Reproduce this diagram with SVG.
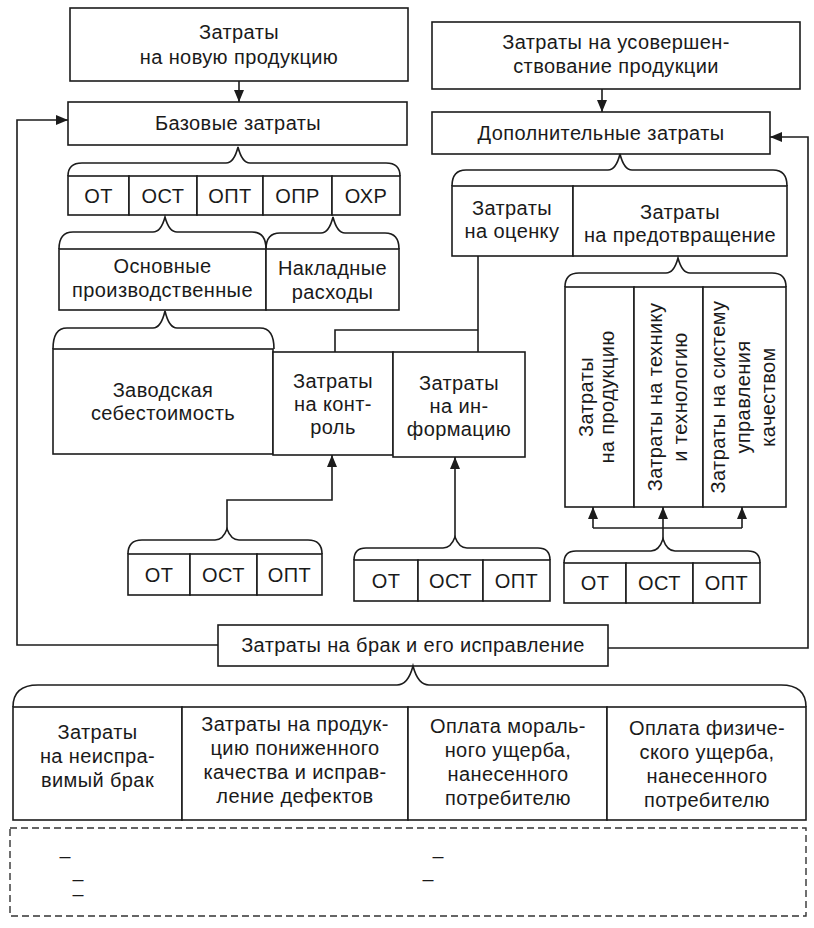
<svg xmlns="http://www.w3.org/2000/svg" width="814" height="928" viewBox="0 0 814 928">
<defs>
<marker id="ah" markerUnits="userSpaceOnUse" markerWidth="12" markerHeight="12" viewBox="0 0 12 12" refX="12" refY="6" orient="auto">
<path d="M0,1 L12,6 L0,11 Z" fill="#1c1c1c"/>
</marker>
</defs>
<style>
rect,.b{fill:#fff;stroke:#1c1c1c;stroke-width:1.6}
.br{fill:none;stroke:#1c1c1c;stroke-width:1.6}
.c{fill:none;stroke:#1c1c1c;stroke-width:1.6}
.a{marker-end:url(#ah)}
text{font-family:"Liberation Sans",Arial,sans-serif;font-size:20px;fill:#1a1a1a;text-anchor:middle;letter-spacing:0.4px}
.dash{font-size:11px;letter-spacing:0;font-weight:bold}
</style>
<rect x="0" y="0" width="814" height="928" style="fill:#fff;stroke:none"/>

<g id="connectors">
<path class="c a" d="M239,81 V102"/>
<path class="c a" d="M602,89 V112"/>
<path class="c a" d="M218,645 H17 V120 H68"/>
<path class="c a" d="M608,648 H808 V137 H770"/>
<path class="c a" d="M227,529 V500 H332 V455"/>
<path class="c a" d="M455,537 V457"/>
<path class="c a" d="M663,539 V507"/>
<path class="c" d="M593,528 H742"/>
<path class="c a" d="M593,528 V507"/>
<path class="c a" d="M742,528 V507"/>
<path class="c" d="M478,256 V352"/>
<path class="c" d="M478,330 H335 V352"/>
</g>

<g id="new-product">
<rect x="70" y="8" width="338" height="73"/>
<text x="239" y="39">Затраты</text>
<text x="239" y="64">на новую продукцию</text>
</g>

<g id="improvement">
<rect x="432" y="22" width="368" height="67"/>
<text x="616" y="49">Затраты на усовершен-</text>
<text x="616" y="73">ствование продукции</text>
</g>

<g id="base-costs">
<rect x="68" y="102" width="339" height="43"/>
<text x="238" y="130">Базовые затраты</text>
</g>

<g id="additional-costs">
<rect x="432" y="112" width="338" height="42"/>
<text x="601" y="140">Дополнительные затраты</text>
</g>

<g id="base-items">
<path class="br" d="M68,176 Q68,163 82,163 L226,163 Q234,163 238,147 Q242,163 250,163 L386,163 Q400,163 400,176"/>
<rect x="68" y="176" width="61" height="39"/>
<rect x="129" y="176" width="68" height="39"/>
<rect x="197" y="176" width="66" height="39"/>
<rect x="263" y="176" width="69" height="39"/>
<rect x="332" y="176" width="68" height="39"/>
<text x="98.5" y="203">ОТ</text>
<text x="163" y="203">ОСТ</text>
<text x="230" y="203">ОПТ</text>
<text x="297.5" y="203">ОПР</text>
<text x="366" y="203">ОХР</text>
</g>

<g id="main-overhead">
<path class="br" d="M59,249 Q59,232 73,232 L153,232 Q161,232 165,217 Q169,232 177,232 L252,232 Q266,232 266,249"/>
<path class="br" d="M266,249 Q266,233 280,233 L321,233 Q329,233 333,217 Q337,233 345,233 L385,233 Q399,233 399,249"/>
<rect x="59" y="249" width="207" height="61"/>
<rect x="266" y="249" width="133" height="61"/>
<text x="162.5" y="273">Основные</text>
<text x="162.5" y="297">производственные</text>
<text x="332.5" y="275">Накладные</text>
<text x="332.5" y="299">расходы</text>
</g>

<g id="factory-cost">
<path class="br" d="M53,349 Q53,328 67,328 L153,328 Q161,328 165,311 Q169,328 177,328 L260,328 Q274,328 274,349"/>
<rect x="53" y="349" width="220" height="105"/>
<text x="163" y="397">Заводская</text>
<text x="163" y="420">себестоимость</text>
</g>

<g id="control">
<rect x="273" y="352" width="120" height="103"/>
<text x="333" y="388">Затраты</text>
<text x="333" y="411">на конт-</text>
<text x="333" y="434">роль</text>
</g>

<g id="information">
<rect x="393" y="352" width="132" height="105"/>
<text x="459" y="390">Затраты</text>
<text x="459" y="413">на ин-</text>
<text x="459" y="436">формацию</text>
</g>

<g id="assessment-prevention">
<path class="br" d="M452,186 Q452,170 466,170 L608,170 Q616,170 620,154 Q624,170 632,170 L773,170 Q787,170 787,186"/>
<rect x="452" y="186" width="121" height="70"/>
<rect x="573" y="186" width="214" height="70"/>
<text x="512" y="215">Затраты</text>
<text x="512" y="238">на оценку</text>
<text x="680" y="219">Затраты</text>
<text x="680" y="242">на предотвращение</text>
</g>

<g id="prevention-items">
<path class="br" d="M565,287 Q565,273 579,273 L666,273 Q674,273 678,258 Q682,273 690,273 L772,273 Q786,273 786,287"/>
<rect x="565" y="287" width="69" height="220"/>
<rect x="634" y="287" width="69" height="220"/>
<rect x="703" y="287" width="83" height="220"/>
<g transform="translate(593,397) rotate(-90)"><text x="0" y="0">Затраты</text></g>
<g transform="translate(614,397) rotate(-90)"><text x="0" y="0">на продукцию</text></g>
<g transform="translate(662,397) rotate(-90)"><text x="0" y="0">Затраты на технику</text></g>
<g transform="translate(687,397) rotate(-90)"><text x="0" y="0">и технологию</text></g>
<g transform="translate(725,397) rotate(-90)"><text x="0" y="0">Затраты на систему</text></g>
<g transform="translate(750,397) rotate(-90)"><text x="0" y="0">управления</text></g>
<g transform="translate(775,397) rotate(-90)"><text x="0" y="0">качеством</text></g>
</g>

<g id="control-items">
<path class="br" d="M128,554 Q128,540 142,540 L215,540 Q223,540 227,529 Q231,540 239,540 L308,540 Q322,540 322,554"/>
<rect x="128" y="554" width="62" height="41"/>
<rect x="190" y="554" width="67" height="41"/>
<rect x="257" y="554" width="65" height="41"/>
<text x="159" y="582">ОТ</text>
<text x="223.5" y="582">ОСТ</text>
<text x="289.5" y="582">ОПТ</text>
</g>

<g id="information-items">
<path class="br" d="M354,560 Q354,548 366,548 L443,548 Q451,548 455,537 Q459,548 467,548 L538,548 Q550,548 550,560"/>
<rect x="354" y="560" width="64" height="41"/>
<rect x="418" y="560" width="65" height="41"/>
<rect x="483" y="560" width="67" height="41"/>
<text x="386" y="588">ОТ</text>
<text x="450.5" y="588">ОСТ</text>
<text x="516.5" y="588">ОПТ</text>
</g>

<g id="prevention-cost-items">
<path class="br" d="M564,563 Q564,551 576,551 L651,551 Q659,551 663,539 Q667,551 675,551 L748,551 Q760,551 760,563"/>
<rect x="564" y="563" width="62" height="40"/>
<rect x="626" y="563" width="67" height="40"/>
<rect x="693" y="563" width="67" height="40"/>
<text x="595" y="590">ОТ</text>
<text x="659.5" y="590">ОСТ</text>
<text x="726.5" y="590">ОПТ</text>
</g>

<g id="defects">
<rect x="218" y="625" width="390" height="41"/>
<text x="413" y="652">Затраты на брак и его исправление</text>
</g>

<g id="defect-items">
<path class="br" d="M13,707 Q13,685 38,685 L397,685 Q408,685 413,666 Q418,685 429,685 L781,685 Q806,685 806,707"/>
<rect x="13" y="707" width="169" height="113"/>
<rect x="182" y="707" width="226" height="113"/>
<rect x="408" y="707" width="199" height="113"/>
<rect x="607" y="707" width="199" height="113"/>
<text x="97.5" y="739">Затраты</text>
<text x="97.5" y="763">на неиспра-</text>
<text x="97.5" y="787">вимый брак</text>
<text x="295" y="731">Затраты на продук-</text>
<text x="295" y="755">цию пониженного</text>
<text x="295" y="779">качества и исправ-</text>
<text x="295" y="803">ление дефектов</text>
<text x="508" y="733">Оплата мораль-</text>
<text x="508" y="757">ного ущерба,</text>
<text x="508" y="781">нанесенного</text>
<text x="508" y="805">потребителю</text>
<text x="707" y="735">Оплата физиче-</text>
<text x="707" y="759">ского ущерба,</text>
<text x="707" y="783">нанесенного</text>
<text x="707" y="807">потребителю</text>
</g>

<g id="dashed-box">
<rect x="10" y="828" width="796" height="88" style="fill:none;stroke:#333;stroke-width:1.4;stroke-dasharray:7 4"/>
<text class="dash" x="65" y="861">—</text>
<text class="dash" x="78" y="884">—</text>
<text class="dash" x="78" y="899">—</text>
<text class="dash" x="438" y="861">—</text>
<text class="dash" x="428" y="884">—</text>
</g>
</svg>
